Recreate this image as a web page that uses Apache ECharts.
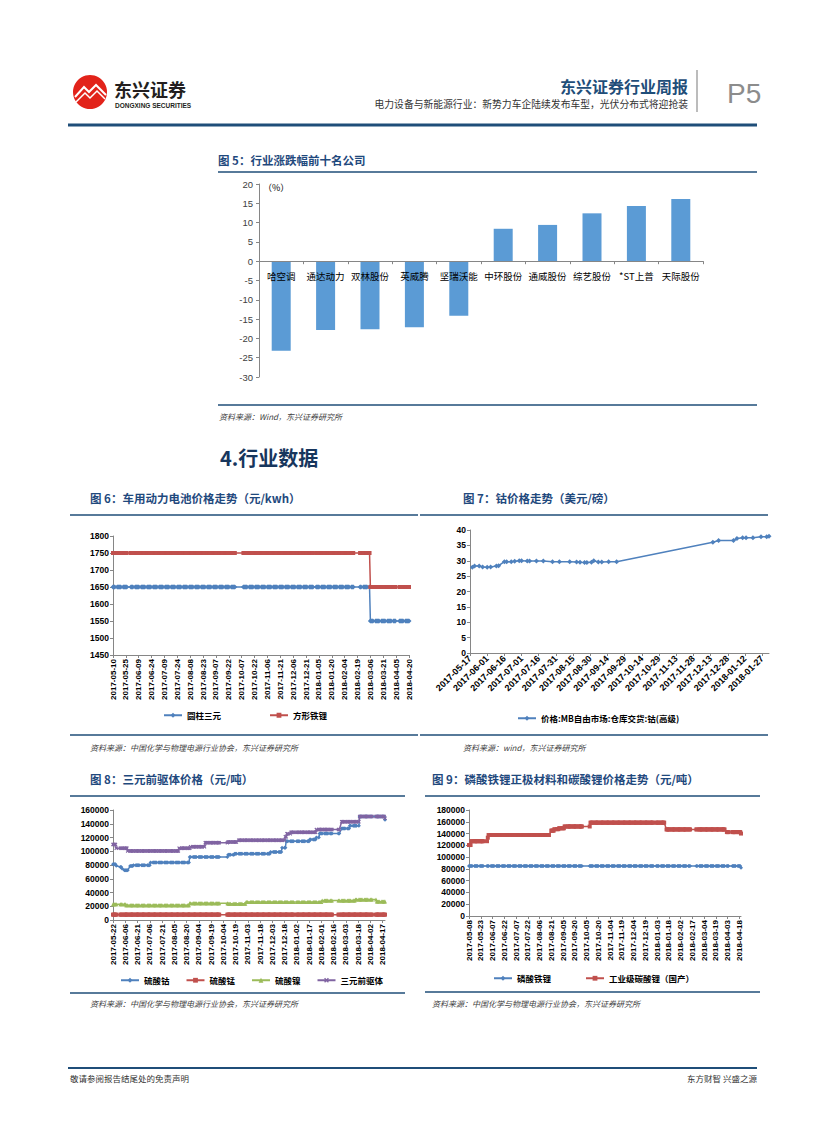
<!DOCTYPE html>
<html>
<head>
<meta charset="utf-8">
<script src="https://cdn.jsdelivr.net/npm/echarts/dist/echarts.min.js"></script>
<style>
html,body{margin:0;padding:0;background:#fff;}
#page{width:827px;height:1122px;}
</style>
</head>
<body>
<div id="page"></div>
<script>
// ---------- DATA ----------
// 图5 行业涨跌幅前十名公司 (%)
const fig5Categories = ['哈空调','通达动力','双林股份','英威腾','坚瑞沃能','中环股份','通威股份','综艺股份','*ST上普','天际股份'];
const fig5Values = [-23.2,-17.8,-17.6,-17.1,-14.1,8.4,9.4,12.4,14.3,16.1];

// 图6 车用动力电池价格 (元/kwh) — value changes [date, value], held until next change
const fig6Range = ['2017-05-10','2018-04-20'];
const fig6Cylinder = [['2017-05-10',1650],['2018-03-06',1550]];
const fig6Prismatic = [['2017-05-10',1750],['2018-03-06',1650]];

// 图7 钴价格 (美元/磅)
const fig7Range = ['2017-05-17','2018-02-02'];
const fig7Cobalt = [
 ['2017-05-19',27.9],['2017-05-21',28.3],['2017-05-25',28.3],['2017-05-28',28.0],['2017-06-01',27.9],
 ['2017-06-04',28.0],['2017-06-09',28.3],['2017-06-11',28.4],['2017-06-16',29.7],['2017-06-18',29.7],
 ['2017-06-22',29.7],['2017-06-25',29.8],['2017-06-29',30.0],['2017-07-01',30.0],['2017-07-06',29.9],
 ['2017-07-08',29.9],['2017-07-14',29.9],['2017-07-20',29.9],['2017-07-28',29.7],['2017-08-03',29.7],
 ['2017-08-12',29.7],['2017-08-18',29.6],['2017-08-21',29.5],['2017-08-25',29.4],['2017-08-27',29.4],
 ['2017-08-31',29.5],['2017-09-02',30.0],['2017-09-06',29.6],['2017-09-09',29.6],['2017-09-15',29.7],
 ['2017-09-22',29.7],['2017-12-15',36.0],['2017-12-20',36.6],['2018-01-02',36.6],['2018-01-05',37.2],
 ['2018-01-10',37.5],['2018-01-13',37.5],['2018-01-19',37.5],['2018-01-26',37.8],['2018-01-31',37.8],
 ['2018-02-02',38.0]
];

// 图8 三元前驱体价格 (元/吨) — value changes
const fig8Range = ['2017-05-22','2018-04-20'];
const fig8Cobalt = [['2017-05-22',81000],['2017-05-26',79000],['2017-05-31',77000],['2017-06-02',75000],
 ['2017-06-05',72500],['2017-06-12',78500],['2017-06-16',79800],['2017-07-07',83500],['2017-08-24',91800],
 ['2017-10-10',95000],['2017-10-18',96500],['2017-12-01',99000],['2017-12-15',105000],['2017-12-20',114500],
 ['2018-01-18',117000],['2018-01-26',120000],['2018-01-30',126000],['2018-02-26',133000],['2018-03-08',137000],
 ['2018-03-20',150500],['2018-04-20',146000]];
const fig8Manganese = [['2017-05-22',7800]];
const fig8Nickel = [['2017-05-22',22800],['2017-06-07',21400],['2017-08-24',24200],['2017-10-10',23700],
 ['2017-11-01',26200],['2018-02-02',28200],['2018-03-15',29700],['2018-04-10',27000]];
const fig8Precursor = [['2017-05-22',110000],['2017-05-26',104500],['2017-06-09',100500],['2017-08-11',104500],
 ['2017-08-25',106500],['2017-09-12',112500],['2017-10-10',113500],['2017-10-23',116000],['2017-12-19',121000],
 ['2017-12-21',125500],['2017-12-26',127500],['2018-01-26',131500],['2018-02-26',143000],['2018-03-20',150500],
 ['2018-04-20',148000]];

// 图9 磷酸铁锂 / 工业级碳酸锂 (元/吨) — value changes
const fig9Range = ['2017-05-08','2018-04-20'];
const fig9LFP = [['2017-05-08',85000],['2018-04-20',82000]];
const fig9Li2CO3 = [['2017-05-08',120500],['2017-05-11',127000],['2017-06-01',133000],['2017-06-02',137500],
 ['2017-08-21',145000],['2017-08-25',147500],['2017-08-31',149000],['2017-09-07',152000],['2017-10-10',158500],
 ['2018-01-15',147000],['2018-04-02',142500],['2018-04-20',140000]];

const holidays = ['2017-05-29','2017-05-30','2017-10-02','2017-10-03','2017-10-04','2017-10-05','2017-10-06',
 '2018-01-01','2018-02-15','2018-02-16','2018-02-19','2018-02-20','2018-02-21','2018-04-05','2018-04-06'];

// ---------- HELPERS ----------
function calendarDays(a,b){
  const out=[]; let t=Date.parse(a+'T00:00:00Z'); const e=Date.parse(b+'T00:00:00Z');
  while(t<=e){ out.push(new Date(t).toISOString().slice(0,10)); t+=86400000; }
  return out;
}
function isTrading(d){
  const wd=new Date(d+'T00:00:00Z').getUTCDay();
  return wd!==0 && wd!==6 && holidays.indexOf(d)<0;
}
function holdSteps(days,steps){
  let i=0;
  return days.map(d=>{
    while(i+1<steps.length && steps[i+1][0]<=d) i++;
    if(!isTrading(d) || steps[i][0]>d) return null;
    return steps[i][1];
  });
}
function pointsOn(days,pairs){
  const m={}; pairs.forEach(p=>m[p[0]]=p[1]);
  return days.map(d=> (d in m)? m[d] : null);
}

const days6=calendarDays(fig6Range[0],fig6Range[1]);
const days7=calendarDays(fig7Range[0],fig7Range[1]);
const days8=calendarDays(fig8Range[0],fig8Range[1]);
const days9=calendarDays(fig9Range[0],fig9Range[1]);

// ---------- STYLE ----------
const C_BLUE='#4F81BD', C_RED='#C0504D', C_GREEN='#9BBB59', C_PURPLE='#8064A2';
const AX='#868686';
const LAT='Liberation Sans, Arial, sans-serif';
const CJK='"Noto Sans CJK SC", sans-serif';
const TITLE_C='#1F497D';
const X_SYM='path://M0,2L2,0L5,3L8,0L10,2L7,5L10,8L8,10L5,7L2,10L0,8L3,5Z';
const plain=v=>String(v);

function lineSeries(name,xi,data,color,symbol,size){
  return {type:'line',name:name,xAxisIndex:xi,yAxisIndex:xi,data:data,connectNulls:true,
    showAllSymbol:true,symbol:symbol,symbolSize:size,
    lineStyle:{color:color,width:1.5},itemStyle:{color:color},animation:false};
}
function dateAxis(gi,days,rotate,fs){
  return {type:'category',gridIndex:gi,data:days,boundaryGap:false,
    axisLine:{lineStyle:{color:AX}},
    axisTick:{interval:14,length:3,lineStyle:{color:AX}},
    axisLabel:{interval:14,rotate:rotate,fontSize:fs,fontWeight:'bold',color:'#000',fontFamily:LAT,margin:4},
    splitLine:{show:false}};
}
function valAxis(gi,min,max,iv){
  return {type:'value',gridIndex:gi,min:min,max:max,interval:iv,
    axisLine:{show:true,lineStyle:{color:AX}},
    axisTick:{show:true,length:3,lineStyle:{color:AX}},
    axisLabel:{fontSize:8.5,fontWeight:'bold',color:'#000',fontFamily:LAT,margin:4,formatter:plain},
    splitLine:{show:false}};
}

function txt(x,y,text,font,fill,align){
  return {type:'text',silent:true,style:{x:x,y:y,text:text,font:font,fill:fill||'#000',align:align||'left',verticalAlign:'middle'}};
}
function ln(x1,y1,x2,y2,color,w){
  return {type:'line',silent:true,shape:{x1:x1,y1:y1,x2:x2,y2:y2},style:{stroke:color,lineWidth:w}};
}

const graphics=[
  // logo
  {type:'circle',silent:true,shape:{cx:90,cy:92,r:17},style:{fill:'#E2231A'}},
  {type:'polyline',silent:true,shape:{points:[[75,97],[84,87],[89,92],[96,85],[106,95]]},style:{stroke:'#fff',lineWidth:2,fill:null}},
  {type:'polyline',silent:true,shape:{points:[[76,102],[85,93],[90,98],[97,91],[105,99]]},style:{stroke:'#fff',lineWidth:1.5,fill:null}},
  txt(114,89,'东兴证券','bold 18px '+CJK,'#231F20'),
  txt(115,105,'DONGXING SECURITIES','bold 6.5px '+LAT,'#231F20'),
  // header
  txt(688,86,'东兴证券行业周报','bold 16px '+CJK,'#1F4E79','right'),
  txt(688,104,'电力设备与新能源行业：新势力车企陆续发布车型，光伏分布式将迎抢装','9.8px '+CJK,'#333','right'),
  ln(697,70,697,112,'#A6A6A6',1.5),
  txt(727,93,'P5','28px '+LAT,'#8C8C8C'),
  ln(68,125,757,125,'#1F4E79',3),
  // fig5
  txt(218,160,'图 5：行业涨跌幅前十名公司','bold 11.5px '+CJK,TITLE_C),
  ln(218,172,757,172,'#1F4E79',1.5),
  txt(263,187,'（%）','9px '+CJK,'#000'),
  ln(218,405,757,405,'#1F4E79',1.5),
  txt(219,416,'资料来源：Wind，东兴证券研究所','italic 8px '+CJK,'#404040'),
  txt(220,457,'4.行业数据','bold 20px '+CJK,'#17365D'),
  // fig6 / fig7
  txt(90,498,'图 6：车用动力电池价格走势（元/kwh）','bold 11.5px '+CJK,TITLE_C),
  txt(463,498,'图 7：钴价格走势（美元/磅）','bold 11.5px '+CJK,TITLE_C),
  ln(70,515,418,515,'#1F4E79',1.5),
  ln(420,515,768,515,'#1F4E79',1.5),
  ln(70,735,418,735,'#1F4E79',1.5),
  ln(420,735,768,735,'#1F4E79',1.5),
  txt(90,747,'资料来源：中国化学与物理电源行业协会，东兴证券研究所','italic 8px '+CJK,'#404040'),
  txt(463,747,'资料来源：wind，东兴证券研究所','italic 8px '+CJK,'#404040'),
  // fig8 / fig9
  txt(90,779,'图 8：三元前驱体价格（元/吨）','bold 11.5px '+CJK,TITLE_C),
  txt(432,779,'图 9：磷酸铁锂正极材料和碳酸锂价格走势（元/吨）','bold 11.5px '+CJK,TITLE_C),
  ln(70,796,405,796,'#1F4E79',1.5),
  ln(425,796,760,796,'#1F4E79',1.5),
  ln(70,993,405,993,'#1F4E79',1.5),
  ln(425,992,760,992,'#1F4E79',1.5),
  txt(90,1003,'资料来源：中国化学与物理电源行业协会，东兴证券研究所','italic 8px '+CJK,'#404040'),
  txt(432,1003,'资料来源：中国化学与物理电源行业协会，东兴证券研究所','italic 8px '+CJK,'#404040'),
  // footer
  ln(68,1068,757,1068,'#1F4E79',2),
  txt(70,1078,'敬请参阅报告结尾处的免责声明','8.5px '+CJK,'#333'),
  txt(757,1078,'东方财智 兴盛之源','8.5px '+CJK,'#333','right')
];

const legendBase={itemWidth:18,itemHeight:6,textStyle:{fontSize:8.5,fontWeight:'bold',fontFamily:CJK,color:'#000'},selectedMode:false};

const option={
  animation:false,
  backgroundColor:'#fff',
  grid:[
    {left:259,top:184,width:444,height:193},
    {left:113,top:536,width:296,height:119},
    {left:470,top:530,width:299,height:123},
    {left:113,top:810,width:272,height:110},
    {left:469,top:810,width:272,height:106}
  ],
  xAxis:[
    {type:'category',gridIndex:0,data:fig5Categories,z:5,offset:-115.8,
      axisLine:{onZero:false,lineStyle:{color:AX}},
      axisTick:{show:true,length:3,lineStyle:{color:AX}},
      axisLabel:{fontSize:9.5,color:'#000',fontFamily:CJK,margin:10,interval:0}},
    dateAxis(1,days6,90,8),
    dateAxis(2,days7,45,9),
    dateAxis(3,days8,90,8),
    dateAxis(4,days9,90,8)
  ],
  yAxis:[
    {type:'value',gridIndex:0,min:-30,max:20,interval:5,
      axisLine:{show:true,lineStyle:{color:AX}},
      axisTick:{show:true,length:3,lineStyle:{color:AX}},
      axisLabel:{fontSize:9.5,color:'#404040',fontFamily:LAT,margin:6,formatter:plain},
      splitLine:{show:false}},
    valAxis(1,1450,1800,50),
    valAxis(2,0,40,5),
    valAxis(3,0,160000,20000),
    valAxis(4,0,180000,20000)
  ],
  legend:[
    Object.assign({},legendBase,{left:158,top:706,itemGap:48,data:['圆柱三元','方形铁锂']}),
    Object.assign({},legendBase,{left:512,top:709,data:['价格:MB自由市场:仓库交货:钴(高级)']}),
    Object.assign({},legendBase,{left:115,top:971,itemGap:16,data:['硫酸钴','硫酸锰','硫酸镍','三元前驱体']}),
    Object.assign({},legendBase,{left:488,top:969,itemGap:34,data:['磷酸铁锂','工业级碳酸锂（国产）']})
  ],
  series:[
    {type:'bar',name:'涨跌幅',xAxisIndex:0,yAxisIndex:0,data:fig5Values,barWidth:19,
      itemStyle:{color:'#5B9BD5'},animation:false},
    lineSeries('圆柱三元',1,holdSteps(days6,fig6Cylinder),C_BLUE,'diamond',5),
    lineSeries('方形铁锂',1,holdSteps(days6,fig6Prismatic),C_RED,'rect',4),
    lineSeries('价格:MB自由市场:仓库交货:钴(高级)',2,pointsOn(days7,fig7Cobalt),C_BLUE,'diamond',5),
    lineSeries('硫酸钴',3,holdSteps(days8,fig8Cobalt),C_BLUE,'diamond',4),
    lineSeries('硫酸锰',3,holdSteps(days8,fig8Manganese),C_RED,'rect',4),
    lineSeries('硫酸镍',3,holdSteps(days8,fig8Nickel),C_GREEN,'triangle',4),
    lineSeries('三元前驱体',3,holdSteps(days8,fig8Precursor),C_PURPLE,X_SYM,4),
    lineSeries('磷酸铁锂',4,holdSteps(days9,fig9LFP),C_BLUE,'diamond',4),
    lineSeries('工业级碳酸锂（国产）',4,holdSteps(days9,fig9Li2CO3),C_RED,'rect',4)
  ],
  graphic:graphics
};

const chart=echarts.init(document.getElementById('page'),null,{renderer:'svg',width:827,height:1122});
chart.setOption(option);
</script>
</body>
</html>
